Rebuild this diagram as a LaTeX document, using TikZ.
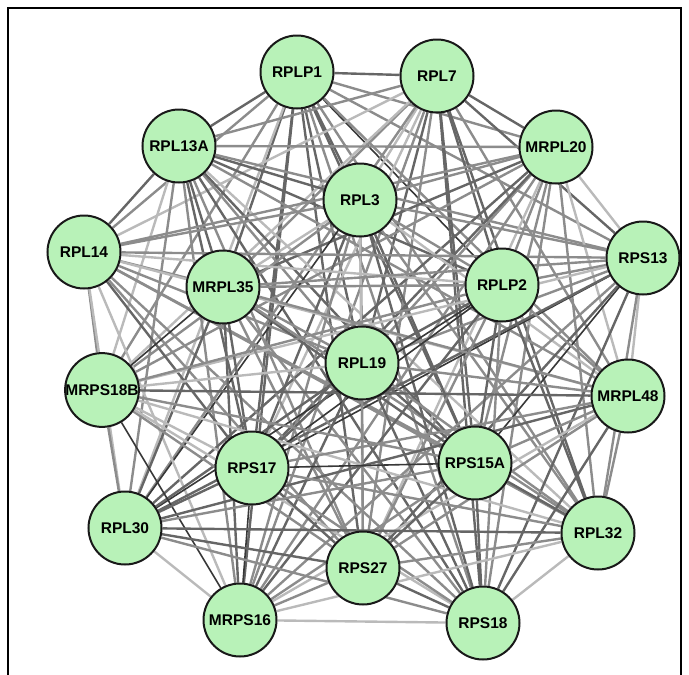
\documentclass[tikz,border=0pt]{standalone}
\usepackage{fontspec}
\setsansfont{Liberation Sans}
\usetikzlibrary{backgrounds}
\definecolor{genegreen}{RGB}{184,242,184}
\begin{document}
\begin{tikzpicture}[x=1pt, y=-1pt,
    gene/.style={circle, draw=black!90, line width=2pt, fill=genegreen,
      minimum size=73pt, inner sep=0pt,
      font=\sffamily\bfseries\fontsize{15.5}{17}\selectfont},
    lkA/.style={draw=black!78, line width=1.6pt},
    lkB/.style={draw=black!60, line width=2.4pt},
    lkC/.style={draw=black!45, line width=2.4pt},
    lkD/.style={draw=black!27, line width=2.4pt}]
  \useasboundingbox (0,0) rectangle (689,675);
  \draw[line width=1.4pt] (8,675) -- (8,8) -- (681,8) -- (681,675);
  % ring of genes
  \node[gene] (plp1) at (297,72) {RPLP1};
  \node[gene] (l7) at (437,76) {RPL7};
  \node[gene] (l13a) at (179,146) {RPL13A};
  \node[gene] (mrpl20) at (556,147) {MRPL20};
  \node[gene] (l3) at (360,200) {RPL3};
  \node[gene] (l14) at (84,252) {RPL14};
  \node[gene] (s13) at (643,258) {RPS13};
  \node[gene] (mrpl35) at (223,287) {MRPL35};
  \node[gene] (plp2) at (502,285) {RPLP2};
  \node[gene] (l19) at (362,363) {RPL19};
  \node[gene] (mrps18b) at (102,390) {MRPS18B};
  \node[gene] (mrpl48) at (628,396) {MRPL48};
  \node[gene] (s17) at (252,468) {RPS17};
  \node[gene] (s15a) at (475,463) {RPS15A};
  \node[gene] (l30) at (125,528) {RPL30};
  \node[gene] (l32) at (598,533) {RPL32};
  \node[gene] (s27) at (363,568) {RPS27};
  \node[gene] (mrps16) at (240,620) {MRPS16};
  \node[gene] (s18) at (483,623) {RPS18};
  % interactions
  \begin{pgfonlayer}{background}
  \path (plp1) edge[lkB] (l7) edge[lkB] (l13a) edge[lkC] (mrpl20) edge[lkB] (l3)
    edge[lkC] (l14) edge[lkC] (s13) edge[lkB] (mrpl35) edge[lkA] (plp2)
    edge[lkB] (l19) edge[lkC] (mrps18b) edge[lkC] (mrpl48) edge[lkB] (s17)
    edge[lkB] (s15a) edge[lkD] (l30) edge[lkC] (l32) edge[lkB] (s27)
    edge[lkB] (mrps16) edge[lkC] (s18);
  \path (l7) edge[lkC] (l13a) edge[lkB] (mrpl20) edge[lkD] (l3) edge[lkD] (l14)
    edge[lkB] (s13) edge[lkC] (mrpl35) edge[lkB] (plp2) edge[lkB] (l19)
    edge[lkD] (mrps18b) edge[lkC] (mrpl48) edge[lkD] (s17) edge[lkB] (s15a)
    edge[lkC] (l30) edge[lkB] (l32) edge[lkC] (s27) edge[lkC] (mrps16)
    edge[lkB] (s18);
  \path (l13a) edge[lkC] (mrpl20) edge[lkB] (l3) edge[lkB] (l14) edge[lkC] (s13)
    edge[lkB] (mrpl35) edge[lkB] (plp2) edge[lkC] (l19) edge[lkD] (mrps18b)
    edge[lkC] (mrpl48) edge[lkB] (s17) edge[lkB] (s15a) edge[lkC] (l30)
    edge[lkD] (l32) edge[lkC] (s27) edge[lkC] (mrps16) edge[lkB] (s18);
  \path (mrpl20) edge[lkC] (l3) edge[lkC] (l14) edge[lkD] (s13) edge[lkB] (mrpl35)
    edge[lkC] (plp2) edge[lkC] (l19) edge[lkC] (mrps18b) edge[lkD] (mrpl48)
    edge[lkB] (s17) edge[lkC] (s15a) edge[lkB] (l30) edge[lkC] (l32)
    edge[lkD] (s27) edge[lkC] (mrps16) edge[lkC] (s18);
  \path (l3) edge[lkC] (l14) edge[lkC] (s13) edge[lkD] (mrpl35) edge[lkC] (plp2)
    edge[lkB] (l19) edge[lkC] (mrps18b) edge[lkD] (mrpl48) edge[lkB] (s17)
    edge[lkB] (s15a) edge[lkA] (l30) edge[lkC] (l32) edge[lkD] (s27)
    edge[lkC] (mrps16) edge[lkB] (s18);
  \path (l14) edge[lkC] (s13) edge[lkC] (mrpl35) edge[lkD] (plp2) edge[lkC] (l19)
    edge[lkC] (mrps18b) edge[lkD] (mrpl48) edge[lkB] (s17) edge[lkC] (s15a)
    edge[lkD] (l30) edge[lkC] (l32) edge[lkC] (s27) edge[lkD] (mrps16)
    edge[lkC] (s18);
  \path (s13) edge[lkC] (mrpl35) edge[lkC] (plp2) edge[lkC] (l19) edge[lkD] (mrps18b)
    edge[lkD] (mrpl48) edge[lkA] (s17) edge[lkA] (s15a) edge[lkB] (l30)
    edge[lkC] (l32) edge[lkB] (s27) edge[lkC] (mrps16) edge[lkB] (s18);
  \path (mrpl35) edge[lkC] (plp2) edge[lkC] (l19) edge[lkA] (mrps18b) edge[lkC] (mrpl48)
    edge[lkB] (s17) edge[lkB] (s15a) edge[lkB] (l30) edge[lkC] (l32)
    edge[lkC] (s27) edge[lkB] (mrps16) edge[lkC] (s18);
  \path (plp2) edge[lkB] (l19) edge[lkC] (mrps18b) edge[lkC] (mrpl48) edge[lkA] (s17)
    edge[lkB] (s15a) edge[lkA] (l30) edge[lkB] (l32) edge[lkC] (s27)
    edge[lkB] (mrps16) edge[lkC] (s18);
  \path (l19) edge[lkD] (mrps18b) edge[lkC] (mrpl48) edge[lkB] (s17) edge[lkB] (s15a)
    edge[lkB] (l30) edge[lkC] (l32) edge[lkC] (s27) edge[lkB] (mrps16)
    edge[lkB] (s18);
  \path (mrps18b) edge[lkB] (mrpl48) edge[lkD] (s17) edge[lkC] (s15a) edge[lkC] (l30)
    edge[lkD] (l32) edge[lkC] (s27) edge[lkA] (mrps16) edge[lkD] (s18);
  \path (mrpl48) edge[lkC] (s17) edge[lkC] (s15a) edge[lkB] (l30) edge[lkC] (l32)
    edge[lkC] (s27) edge[lkD] (mrps16) edge[lkB] (s18);
  \path (s17) edge[lkA] (s15a) edge[lkB] (l30) edge[lkC] (l32) edge[lkB] (s27)
    edge[lkA] (mrps16) edge[lkC] (s18);
  \path (s15a) edge[lkC] (l30) edge[lkB] (l32) edge[lkB] (s27) edge[lkC] (mrps16)
    edge[lkB] (s18);
  \path (l30) edge[lkB] (l32) edge[lkB] (s27) edge[lkD] (mrps16) edge[lkC] (s18);
  \path (l32) edge[lkC] (s27) edge[lkD] (mrps16) edge[lkD] (s18);
  \path (s27) edge[lkC] (mrps16) edge[lkB] (s18);
  \path (mrps16) edge[lkD] (s18);
  \end{pgfonlayer}
\end{tikzpicture}
\end{document}
